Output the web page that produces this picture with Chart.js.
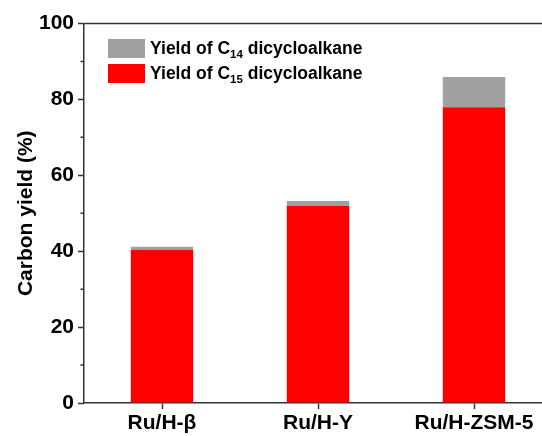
<!DOCTYPE html>
<html>
<head>
<meta charset="utf-8">
<script src="https://cdn.jsdelivr.net/npm/chart.js@4"></script>
<style>
  html, body { margin: 0; background: #fff; overflow: hidden; }
  #wrap { position: relative; width: 552px; height: 436px; }
  #legend { position: absolute; left: 108px; top: 39px; font: bold 17.5px "Liberation Sans", Arial, sans-serif; color: #000; }
  .row { display: flex; align-items: center; height: 19px; margin-bottom: 6px; }
  .box { width: 37px; height: 19px; margin-right: 5px; }
  .row sub { font-size: 11.5px; vertical-align: -4px; line-height: 0; }
</style>
</head>
<body>
<div id="wrap">
  <canvas id="grafico"></canvas>
  <div id="legend"></div>
</div>
<script>
// dados
const categorias = ['Ru/H-\u03b2', 'Ru/H-Y', 'Ru/H-ZSM-5'];
const yieldC15 = [40.4, 52.0, 77.9];
const yieldC14 = [0.8, 1.2, 8.0];
const ticksMenores = [10, 30, 50, 70, 90];

const fonte = { family: '"Liberation Sans", Arial, sans-serif', size: 21, weight: 'bold' };
const corEixo = '#333';

// linhas extras: ticks menores no eixo y e a borda de cima
const linhasExtras = {
  id: 'linhasExtras',
  afterDraw(chart) {
    const { ctx, chartArea, scales: { y } } = chart;
    ctx.save();
    ctx.strokeStyle = corEixo;
    ctx.lineWidth = 1.5;
    ctx.beginPath();
    ticksMenores.forEach(v => {
      const py = y.getPixelForValue(v);
      ctx.moveTo(chartArea.left - 3.5, py);
      ctx.lineTo(chartArea.left, py);
    });
    ctx.moveTo(chartArea.left, chartArea.top);
    ctx.lineTo(chartArea.right, chartArea.top);
    ctx.stroke();
    ctx.restore();
  }
};

const dados = {
  labels: categorias,
  datasets: [
    { label: 'C15', sub: '15', data: yieldC15, backgroundColor: '#ff0000', barPercentage: 0.4, categoryPercentage: 1 },
    { label: 'C14', sub: '14', data: yieldC14, backgroundColor: '#a0a0a0', barPercentage: 0.4, categoryPercentage: 1 }
  ]
};

const opcoes = {
  responsive: true,
  maintainAspectRatio: false,
  animation: false,
  layout: { padding: { top: 23.5, right: 0, left: 0, bottom: 0 } },
  scales: {
    x: {
      stacked: true,
      grid: { display: true, drawOnChartArea: false, offset: false, tickLength: 6, tickColor: corEixo, tickWidth: 1.5 },
      border: { color: corEixo, width: 1.5 },
      ticks: { font: fonte, color: '#000', padding: 2, maxRotation: 0 },
      afterFit(scale) { scale.height = 33; }
    },
    y: {
      stacked: true,
      min: 0,
      max: 100,
      grid: { display: true, drawOnChartArea: false, tickLength: 6, tickColor: corEixo, tickWidth: 1.5 },
      border: { color: corEixo, width: 1.5 },
      ticks: { stepSize: 20, font: fonte, color: '#000', padding: 4 },
      title: { display: true, text: 'Carbon yield (%)', font: fonte, color: '#000', padding: { top: 14, bottom: 0 } },
      afterFit(scale) { scale.width = 84; }
    }
  },
  plugins: {
    legend: { display: false },
    tooltip: { enabled: false }
  }
};

const grafico = new Chart(document.getElementById('grafico'), {
  type: 'bar',
  data: dados,
  options: opcoes,
  plugins: [linhasExtras]
});

// legenda em html para poder usar subscrito (ordem invertida, C14 em cima)
const legenda = document.getElementById('legend');
dados.datasets.slice().reverse().forEach(ds => {
  const row = document.createElement('div');
  row.className = 'row';
  row.innerHTML = '<div class="box" style="background:' + ds.backgroundColor + '"></div>' +
    '<span>Yield of C<sub>' + ds.sub + '</sub> dicycloalkane</span>';
  legenda.appendChild(row);
});
</script>
</body>
</html>
